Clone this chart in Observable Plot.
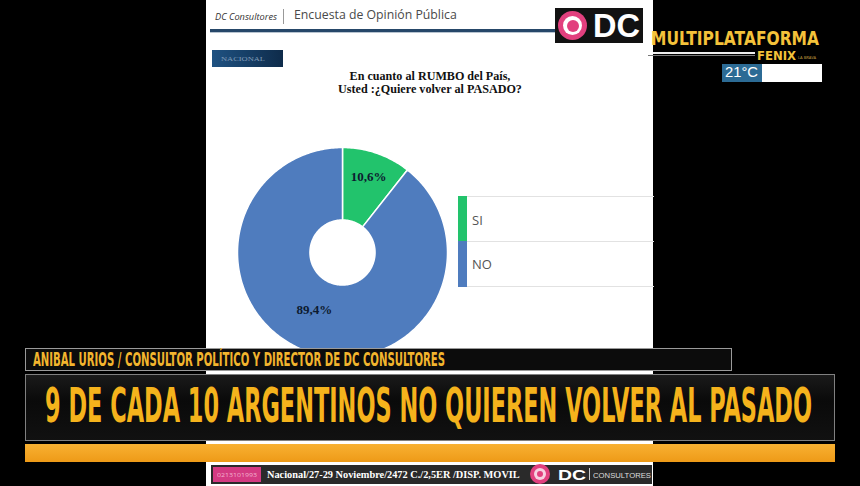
<!DOCTYPE html>
<html><head><meta charset="utf-8">
<script src="https://cdn.jsdelivr.net/npm/d3@7"></script>
<script src="https://cdn.jsdelivr.net/npm/@observablehq/plot@0.6"></script>
<style>
html,body{margin:0;padding:0;background:#000;}
#frame{position:relative;width:860px;height:486px;overflow:hidden;background:#000;}
.b{position:absolute;box-sizing:border-box;}
.t{position:absolute;white-space:nowrap;line-height:1;}
#chart{position:absolute;left:235px;top:145px;}
</style></head><body><div id="frame"></div>
<script>
// ---- data ----
const categories = ["SI", "NO"];
const values = [10.6, 89.4];
const valueLabels = ["10,6%", "89,4%"];
const colors = ["#22c36c", "#4f7cbe"];
const titleLines = ["En cuanto al RUMBO del País,", "Usted :¿Quiere volver al PASADO?"];
const headerTexts = ["DC Consultores", "Encuesta de Opinión Pública"];
const sectionLabel = "NACIONAL";
const nameBarText = "ANIBAL URIOS / CONSULTOR POLÍTICO Y DIRECTOR DE DC CONSULTORES";
const headlineText = "9 DE CADA 10 ARGENTINOS NO QUIEREN VOLVER AL PASADO";
const footerText = "Nacional/27-29 Noviembre/2472 C./2,5ER /DISP. MOVIL";

const frame = document.getElementById("frame");
function box(l, t, w, h, style) {
  const el = document.createElement("div");
  el.className = "b";
  Object.assign(el.style, {left: l + "px", top: t + "px", width: w + "px", height: h + "px"}, style || {});
  frame.appendChild(el);
  return el;
}
function txt(o) {
  const el = document.createElement("div");
  el.className = "t";
  el.textContent = o.text;
  Object.assign(el.style, {
    fontFamily: o.family || "'Open Sans', sans-serif",
    fontSize: o.size + "px",
    fontWeight: o.weight || "normal",
    fontStyle: o.italic ? "italic" : "normal",
    color: o.color || "#000",
    letterSpacing: o.ls || "normal",
    lineHeight: (o.lh || 1)
  });
  frame.appendChild(el);
  let fs = o.size;
  if (o.width && o.mode === "font") {
    const w0 = el.getBoundingClientRect().width;
    fs = o.size * o.width / w0;
    el.style.fontSize = fs + "px";
  }
  let w = el.getBoundingClientRect().width;
  if (o.width && o.mode === "scale") {
    el.style.transformOrigin = "0 0";
    el.style.transform = `scaleX(${o.width / w})`;
    w = o.width;
  }
  let left = o.x;
  if (o.anchor === "middle") left = o.x - w / 2;
  el.style.left = left + "px";
  el.style.top = (o.y - (o.asc || 0.86) * fs) + "px";
  return el;
}

// ---- slide ----
box(206, 0, 447, 486, {background: "#fff"});
txt({text: headerTexts[0], x: 215, y: 20, size: 11, italic: true, color: "#333", width: 62, mode: "font"});
box(283, 9, 1, 15, {background: "#999"});
txt({text: headerTexts[1], x: 294, y: 20, size: 14, color: "#4a4a4a", width: 163, mode: "font"});
box(210, 29, 346, 3, {background: "#264769"});
box(210, 32, 346, 1, {background: "#b8c4d0"});
// logo
box(555, 8, 88, 35, {background: "#121212"});
box(558, 11, 29, 29, {background: "#e2407e", borderRadius: "50%"});
box(563, 16, 19, 19, {background: "#fff", borderRadius: "50%"});
box(566.5, 19.5, 12, 12, {background: "#e2407e", borderRadius: "50%"});
txt({text: "DC", x: 593, y: 38, size: 35, weight: "bold", family: "'Liberation Sans', sans-serif", color: "#fff", width: 47, mode: "font"});
// section tab
box(212, 50, 71, 17, {background: "linear-gradient(to right,#1f5282,#0e2b4a)"});
txt({text: sectionLabel, x: 221, y: 62, size: 7, family: "'Liberation Serif', serif", color: "#7f9bb8", width: 44, mode: "scale"});
// title
txt({text: titleLines[0], x: 430, y: 80, size: 12, weight: "bold", family: "'Liberation Serif', serif", color: "#111", width: 161, mode: "font", anchor: "middle"});
txt({text: titleLines[1], x: 430, y: 93, size: 12, weight: "bold", family: "'Liberation Serif', serif", color: "#111", width: 184, mode: "font", anchor: "middle"});

// ---- donut via Plot ----
const total = d3.sum(values);
const angle = d3.scaleLinear().domain([0, total]).range([0, 2 * Math.PI]);
let acc = 0;
const slices = categories.map((c, i) => {
  const s = acc; acc += values[i];
  return {category: c, value: values[i], label: valueLabels[i], start: s, end: acc};
});
const R0 = 0.31, R1 = 1;
const pts = [];
for (const s of slices) {
  const a0 = angle(s.start), a1 = angle(s.end);
  const n = Math.max(8, Math.ceil((a1 - a0) / (Math.PI / 180)));
  const ring = [];
  for (let k = 0; k <= n; k++) { const a = a0 + (a1 - a0) * k / n; ring.push([R1 * Math.sin(a), R1 * Math.cos(a)]); }
  for (let k = n; k >= 0; k--) { const a = a0 + (a1 - a0) * k / n; ring.push([R0 * Math.sin(a), R0 * Math.cos(a)]); }
  ring.push(ring[0]);
  for (const [x, y] of ring) pts.push({category: s.category, x, y});
}
const labelPts = slices.map(s => {
  const small = s.value / total < 0.5;
  const a = angle((s.start + s.end) / 2) + (small ? 0 : 0.12);
  const r = small ? 0.76 : 0.61;
  return {label: s.label, x: r * Math.sin(a), y: r * Math.cos(a)};
});
const chart = Plot.plot({
  width: 214, height: 214, margin: 2,
  x: {domain: [-1, 1], axis: null},
  y: {domain: [-1, 1], axis: null},
  color: {domain: categories, range: colors},
  style: {background: "transparent", overflow: "visible"},
  marks: [
    Plot.line(pts, {x: "x", y: "y", z: "category", fill: "category", stroke: "#fff", strokeWidth: 1.5, strokeLinejoin: "round"}),
    Plot.text(labelPts, {x: "x", y: "y", text: "label", fill: "#0d1b30", fontSize: 13, fontWeight: "bold", fontFamily: "'Liberation Serif', 'DejaVu Serif', serif"})
  ]
});
chart.id = "chart";
frame.appendChild(chart);

// ---- legend ----
[196, 241, 286].forEach(y => box(458, y, 196, 1, {background: "#e2e2e2"}));
categories.forEach((c, i) => {
  box(458, 196 + i * 45, 9, 46, {background: colors[i]});
  txt({text: c, x: 472, y: 225 + i * 44, size: 13, color: "#555"});
});

// ---- TV overlays ----
txt({text: "MULTIPLATAFORMA", x: 651, y: 45, size: 19, weight: "bold", family: "'DejaVu Sans', sans-serif", color: "#f4c23a", width: 168, mode: "scale", lh: 0.75, asc: 0.721});
box(653, 52, 102, 2, {background: "#eee"});
box(648, 55, 107, 1, {background: "#777"});
txt({text: "FENIX", x: 757, y: 60, size: 13, weight: "bold", family: "'DejaVu Sans', sans-serif", color: "#f4c23a", width: 39, mode: "scale", lh: 0.75, asc: 0.721});
txt({text: "LA BRAVA", x: 798, y: 59, size: 4, color: "#c9a040"});
box(722, 64, 40, 18, {background: "#2c6b95"});
txt({text: "21°C", x: 725, y: 78, size: 13, family: "'Liberation Sans', sans-serif", color: "#fff", width: 33, mode: "font"});
box(762, 64, 60, 18, {background: "#fff"});

box(25, 348, 707, 23, {background: "#0c0c0c", border: "1px solid #9a9a9a"});
txt({text: nameBarText, x: 33, y: 367, size: 19.5, weight: "bold", family: "'Liberation Sans Narrow','DejaVu Sans Condensed','Liberation Sans',sans-serif", color: "#f2b52e", width: 412, mode: "scale"});
box(25, 374, 810, 67, {background: "linear-gradient(#1a1a1a,#0a0a0a 40%,#111)", border: "1px solid #808080"});
txt({text: headlineText, x: 45, y: 422, size: 48, weight: "bold", family: "'Liberation Sans Narrow','DejaVu Sans Condensed','Liberation Sans',sans-serif", color: "#f5b31c", width: 767, mode: "scale"});
box(25, 444, 810, 18, {background: "linear-gradient(#f8b132,#ee9a17)"});

// footer strip
box(211, 465, 441, 19, {background: "#2a2a2a"});
box(213, 467, 48, 15, {background: "#d43a82"});
txt({text: "0213101993", x: 217, y: 477, size: 6, color: "#f3b3cf", width: 40, mode: "scale"});
txt({text: footerText, x: 267, y: 479, size: 10, weight: "bold", family: "'Liberation Serif', serif", color: "#fff", width: 253, mode: "font"});
box(530, 464, 20, 20, {background: "#e2407e", borderRadius: "50%"});
box(534, 468, 12, 12, {background: "#f6d0e0", borderRadius: "50%"});
box(537, 471, 6, 6, {background: "#e2407e", borderRadius: "50%"});
txt({text: "DC", x: 558, y: 480, size: 14, weight: "bold", family: "'Liberation Sans', sans-serif", color: "#fff", width: 28, mode: "scale"});
box(589, 468, 1, 12, {background: "#ccc"});
txt({text: "CONSULTORES", x: 593, y: 478, size: 7, family: "'Liberation Sans', sans-serif", color: "#ddd", width: 58, mode: "scale"});
</script>
</body></html>
